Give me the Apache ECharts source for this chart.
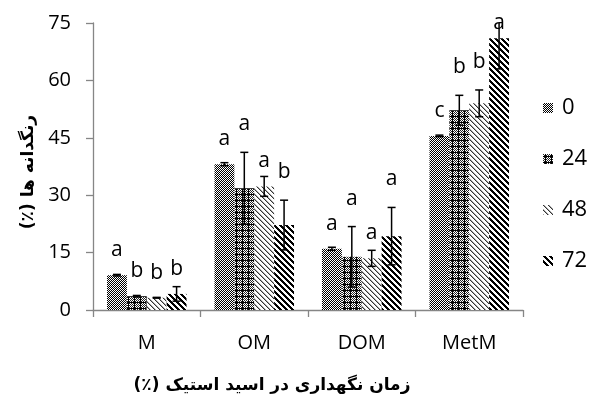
<!DOCTYPE html>
<html>
<head>
<meta charset="utf-8">
<script src="https://cdn.jsdelivr.net/npm/echarts@6/dist/echarts.min.js"></script>
<style>
  html, body { margin: 0; padding: 0; background: #fff; }
  #chart { width: 595px; height: 398px; }
</style>
</head>
<body>
<div id="chart"></div>
<script>
// Pigment content per storage time in acetic acid
const categories = ['M', 'OM', 'DOM', 'MetM'];
const seriesNames = ['0', '24', '48', '72'];

const values0  = [9.1, 38.1, 16.0, 45.5];
const values24 = [3.6, 31.8, 13.9, 52.2];
const values48 = [3.2, 32.3, 13.5, 54.0];
const values72 = [4.2, 22.2, 19.3, 71.0];

const errors0  = [0.2, 0.4, 0.4, 0.2];
const errors24 = [0.2, 9.4, 7.9, 3.9];
const errors48 = [0.1, 2.6, 2.1, 3.5];
const errors72 = [1.9, 6.5, 7.5, 8.0];

const letters0  = ['a', 'a', 'a', 'c'];
const letters24 = ['b', 'a', 'a', 'b'];
const letters48 = ['b', 'a', 'a', 'b'];
const letters72 = ['b', 'b', 'a', 'a'];

const yTicks = [0, 15, 30, 45, 60, 75];

const allValues = [values0, values24, values48, values72];
const allErrors = [errors0, errors24, errors48, errors72];
const allLetters = [letters0, letters24, letters48, letters72];

const Y_MAX = yTicks[yTicks.length - 1];
const CAT_GAP = 0.26;
const TEXT = '#000';
const AXIS = '#868686';
const BASE_FONT = '"Open Sans", "Noto Sans", sans-serif';
const FA_FONT = '"DejaVu Sans", "Noto Sans", sans-serif';
const RLM = '\u200F';

// Monochrome fill patterns drawn pixel by pixel
function makePattern(size, pick) {
  const c = document.createElement('canvas');
  c.width = size; c.height = size;
  const ctx = c.getContext('2d');
  ctx.fillStyle = '#fff';
  ctx.fillRect(0, 0, size, size);
  for (let y = 0; y < size; y++) {
    for (let x = 0; x < size; x++) {
      const col = pick(x, y);
      if (col) { ctx.fillStyle = col; ctx.fillRect(x, y, 1, 1); }
    }
  }
  return { image: c, repeat: 'repeat' };
}

const patterns = [
  // fine checker
  makePattern(2, (x, y) => ((x + y) % 2 === 1 ? '#000' : null)),
  // checker with a crossing grid
  makePattern(6, (x, y) => (x === 2 || y === 2) ? '#000' : ((x + y) % 2 === 0 ? '#222' : null)),
  // thin light diagonals
  makePattern(5, (x, y) => {
    const d = ((x - y) % 5 + 5) % 5;
    return d === 0 ? '#333' : (d === 1 ? '#aaa' : null);
  }),
  // bold diagonals
  makePattern(6, (x, y) => {
    const d = ((x - y) % 6 + 6) % 6;
    return d < 3 ? '#000' : null;
  })
];

function barX(api, k, idx, v) {
  const c = api.coord([idx, v]);
  const band = api.size([1, 0])[0];
  const w = band * (1 - CAT_GAP) / 4;
  return c[0] + (k - 1.5) * w;
}

const barSeries = seriesNames.map((name, k) => ({
  name: name,
  type: 'bar',
  data: allValues[k],
  barGap: '0%',
  barCategoryGap: (CAT_GAP * 100) + '%',
  itemStyle: { color: patterns[k] },
  emphasis: { disabled: true },
  z: 2
}));

const errorSeries = seriesNames.map((name, k) => ({
  type: 'custom',
  clip: true,
  z: 5,
  silent: true,
  data: allValues[k].map((v, i) => [i, v, allErrors[k][i]]),
  renderItem: function (params, api) {
    const idx = api.value(0), v = api.value(1), e = api.value(2);
    const x = barX(api, k, idx, v);
    const top = api.coord([idx, v + e])[1];
    const bot = api.coord([idx, v - e])[1];
    const half = 4;
    const st = { stroke: '#000', lineWidth: 1.5 };
    return {
      type: 'group',
      children: [
        { type: 'line', shape: { x1: x, y1: top, x2: x, y2: bot }, style: st },
        { type: 'line', shape: { x1: x - half, y1: top, x2: x + half, y2: top }, style: st },
        { type: 'line', shape: { x1: x - half, y1: bot, x2: x + half, y2: bot }, style: st }
      ]
    };
  }
}));

// Significance letters: above the bar, or above the error cap when the error is large
const letterSeries = seriesNames.map((name, k) => ({
  type: 'custom',
  clip: false,
  z: 6,
  silent: true,
  data: allValues[k].map((v, i) => [i, v, allErrors[k][i]]),
  renderItem: function (params, api) {
    const idx = api.value(0), v = api.value(1), e = api.value(2);
    const letter = allLetters[k][params.dataIndex];
    const x = barX(api, k, idx, v);
    const plotTop = api.coord([idx, Y_MAX])[1];
    let y;
    if (e > 3) {
      y = api.coord([idx, Math.min(v + e, Y_MAX)])[1] - 28;
    } else {
      y = api.coord([idx, v])[1] - 25;
    }
    y = Math.max(y, plotTop);
    return {
      type: 'text',
      style: {
        text: letter, x: x, y: y,
        align: 'center', verticalAlign: 'middle',
        fill: '#000', font: '21px ' + BASE_FONT
      }
    };
  }
}));

const chart = echarts.init(document.getElementById('chart'), null, { renderer: 'canvas' });
chart.setOption({
  animation: false,
  backgroundColor: '#fff',
  grid: { left: 93, right: 72, top: 23, bottom: 88, containLabel: false },
  legend: {
    data: seriesNames,
    orient: 'vertical',
    left: 538,
    top: 91,
    itemWidth: 10,
    itemHeight: 10,
    itemGap: 27,
    icon: 'rect',
    selectedMode: false,
    textStyle: { fontSize: 22, fontFamily: BASE_FONT, color: TEXT, lineHeight: 24, padding: [0, 0, 0, 4] }
  },
  xAxis: {
    type: 'category',
    data: categories,
    axisLine: { lineStyle: { color: AXIS, width: 1.3 } },
    axisTick: { show: true, length: 7, alignWithLabel: false, lineStyle: { color: AXIS, width: 1.3 } },
    axisLabel: { margin: 23, fontSize: 20, fontFamily: BASE_FONT, color: TEXT }
  },
  yAxis: {
    type: 'value',
    min: yTicks[0],
    max: Y_MAX,
    interval: yTicks[1] - yTicks[0],
    splitLine: { show: false },
    axisLine: { show: true, lineStyle: { color: AXIS, width: 1.3 } },
    axisTick: { show: true, length: 7, lineStyle: { color: AXIS, width: 1.3 } },
    axisLabel: { margin: 22, fontSize: 20, fontFamily: BASE_FONT, color: TEXT }
  },
  graphic: [
    {
      type: 'text',
      x: 272, y: 386,
      style: {
        text: RLM + 'زمان نگهداری در اسید استیک (٪)' + RLM,
        align: 'center', verticalAlign: 'middle',
        font: 'bold 17px ' + FA_FONT, fill: '#000'
      }
    },
    {
      type: 'text',
      x: 29, y: 172,
      rotation: Math.PI / 2,
      style: {
        text: RLM + 'رنگدانه ها (٪)' + RLM,
        align: 'center', verticalAlign: 'middle',
        font: 'bold 17px ' + FA_FONT, fill: '#000'
      }
    }
  ],
  series: barSeries.concat(errorSeries, letterSeries)
});
</script>
</body>
</html>
